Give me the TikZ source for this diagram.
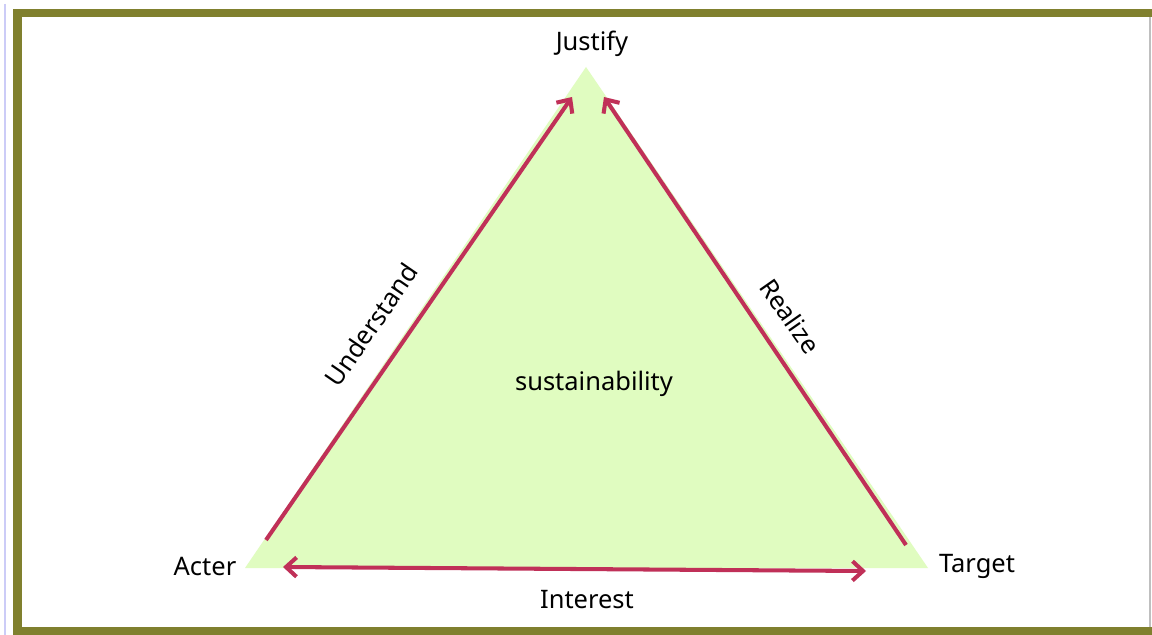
\documentclass[tikz,border=0pt]{standalone}
\usepackage{fontspec}
\setmainfont{Noto Sans}
\usepackage{tikz}
\usetikzlibrary{arrows.meta,positioning}

\definecolor{framecol}{RGB}{128,128,46}
\definecolor{fillcol}{RGB}{224,252,192}
\definecolor{arrowcol}{RGB}{192,48,88}

\begin{document}
\begin{tikzpicture}[x=0.02cm,y=-0.02cm,
  txt/.style={font=\fontsize{14.5}{16}\selectfont,inner sep=1pt},
  tip/.tip={Straight Barb[length=6pt,width=11pt]},
  rel/.style={draw=arrowcol,line width=2.3pt,-tip}]
  \useasboundingbox[fill=white] (0,0) rectangle (1152,635);
  % frame
  \draw[color=black!15!blue!20,line width=1.2pt] (5,4) -- (5,635);
  \draw[framecol,line width=4.6pt] (1152,13) -- (17.5,13) -- (17.5,631) -- (1152,631);
  \draw[black!25,line width=0.6pt] (1150,17) -- (1150,627);
  % triangle
  \coordinate (top) at (586,67);
  \coordinate (left) at (245,568);
  \coordinate (right) at (928,568);
  \fill[fillcol] (top) -- (left) -- (right) -- cycle;
  \coordinate (A1) at (266,540);
  \coordinate (A2) at (572,97);
  \coordinate (B1) at (906,545);
  \coordinate (B2) at (604,97);
  \coordinate (C1) at (283,567);
  \coordinate (C2) at (866,571);
  \draw[rel] (A1) -- (A2);
  \draw[rel] (B1) -- (B2);
  \draw[rel,tip-tip] (C1) -- (C2);
  % labels
  \node[txt] (justify) at (592,44) {Justify};
  \node[txt] (acter) at (205,566) {Acter};
  \node[txt] (target) at (977,566) {Target};
  \node[txt] (interest) at (587,600) {Interest};
  \node[txt] (sust) at (594,384) {sustainability};
  \node[txt,rotate=55.5] (understand) at (371,325) {Understand};
  \node[txt,rotate=-55] (realize) at (790,316) {Realize};
\end{tikzpicture}
\end{document}
